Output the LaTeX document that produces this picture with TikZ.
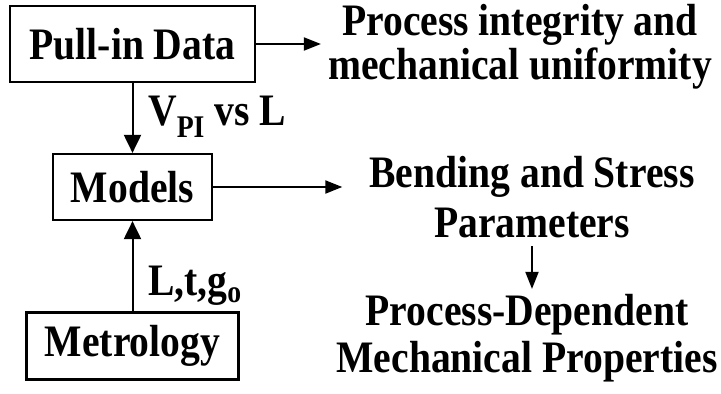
\documentclass[tikz,border=0pt]{standalone}
\usepackage{fontspec}
\setmainfont[FakeStretch=0.88]{Liberation Serif}
\usetikzlibrary{arrows.meta,positioning}

\begin{document}
\begin{tikzpicture}[x=1pt,y=-1pt,
  font=\bfseries\fontsize{45}{44}\selectfont,
  box/.style={draw,line width=2.2pt,inner sep=0pt},
  txt/.style={align=center,inner sep=0pt},
  flow/.style={line width=2pt,-{Triangle[length=17pt,width=13pt]}},
  vflow/.style={line width=2pt,-{Triangle[length=18pt,width=17pt]}}]
\useasboundingbox (0,0) rectangle (721,394);
\node[box,minimum width=245pt,minimum height=76pt] (pull) at (132.5,44) {Pull-in Data};
\node[box,minimum width=159pt,minimum height=66pt] (mod) at (132.5,187) {Models};
\node[box,minimum width=212pt,minimum height=67pt] (met) at (132.5,346) {Metrology};
\node[txt] (integ) at (520,47) {Process integrity and\\mechanical uniformity};
\node[txt] (bend) at (532,197) {Bending and Stress\\[6pt]Parameters};
\node[txt] (prop) at (527,338) {Process-Dependent\\[3pt]Mechanical Properties};
\node[txt,anchor=west] (vpi) at (148,117) {V\textsubscript{PI} vs L};
\node[txt,anchor=west] (geo) at (148,286) {L,t,g\textsubscript{o}};
% arrows
\draw[flow,shorten >=7pt] (pull.east) -- (pull.east -| integ.west);
\draw[vflow] (pull.south) -- (mod.north);
\draw[vflow] (met.north) -- (mod.south);
\draw[flow,shorten >=27pt] (mod.east) -- (mod.east -| bend.west);
\draw[flow,shorten <=8pt,shorten >=5pt] (bend.south) -- (bend.south |- prop.north);
\end{tikzpicture}
\end{document}
